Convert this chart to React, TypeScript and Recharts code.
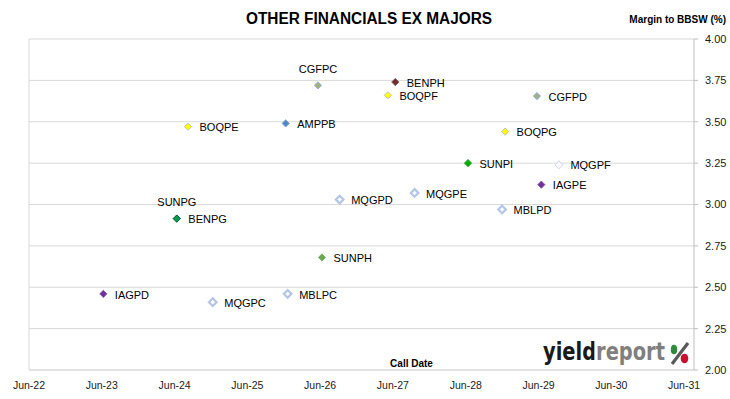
import React from 'react';
import { ScatterChart, Scatter, XAxis, YAxis, CartesianGrid, ReferenceLine } from 'recharts';

// ---- data ----
const bondNames = [
  'CGFPC', 'BENPH', 'BOQPF', 'CGFPD', 'BOQPE', 'AMPPB', 'BOQPG', 'SUNPI', 'MQGPF',
  'IAGPE', 'MQGPE', 'MQGPD', 'MBLPD', 'SUNPG', 'BENPG', 'SUNPH', 'IAGPD', 'MQGPC', 'MBLPC',
];
const callDates = [
  '2026-06-04', '2027-06-27', '2027-05-21', '2029-06-07', '2024-08-21', '2025-12-24', '2028-12-29', '2028-06-26', '2029-09-25',
  '2029-06-29', '2027-10-02', '2026-09-21', '2028-12-14', '2024-06-26', '2024-06-26', '2026-06-24', '2023-06-23', '2024-12-23', '2026-01-03',
];
const margins = [
  3.72, 3.74, 3.66, 3.655, 3.47, 3.49, 3.44, 3.25, 3.24,
  3.12, 3.07, 3.03, 2.97, 2.915, 2.915, 2.68, 2.46, 2.41, 2.46,
];
const tickYears = [2022, 2023, 2024, 2025, 2026, 2027, 2028, 2029, 2030, 2031];
const yTicks = [2.0, 2.25, 2.5, 2.75, 3.0, 3.25, 3.5, 3.75, 4.0];

// ---- styles ----
type MS = { fill: string; stroke: string; sw: number; r: number };
const ring: MS = { fill: '#FFFFFF', stroke: '#B4C6E7', sw: 2.2, r: 3.8 };
const markerStyles: Record<string, MS> = {
  CGFPC: { fill: '#A9AF78', stroke: '#8EB4E3', sw: 1, r: 3.6 },
  CGFPD: { fill: '#A3AE88', stroke: '#8EB4E3', sw: 1, r: 3.6 },
  BENPH: { fill: '#6E2C2C', stroke: '#8C5A5A', sw: 1, r: 3.6 },
  BOQPE: { fill: '#FFFF00', stroke: '#BFBFBF', sw: 1, r: 3.6 },
  BOQPF: { fill: '#FFFF00', stroke: '#BFBFBF', sw: 1, r: 3.6 },
  BOQPG: { fill: '#FFFF00', stroke: '#BFBFBF', sw: 1, r: 3.6 },
  AMPPB: { fill: '#4F86C6', stroke: '#7FA7D8', sw: 1, r: 3.6 },
  SUNPI: { fill: '#00B000', stroke: '#2A9A2A', sw: 1, r: 3.6 },
  MQGPF: { fill: '#FFFFFF', stroke: '#C5D3EB', sw: 1, r: 4 },
  IAGPE: { fill: '#7030A0', stroke: '#8A5CB0', sw: 1, r: 3.6 },
  IAGPD: { fill: '#7030A0', stroke: '#8A5CB0', sw: 1, r: 3.6 },
  MQGPE: ring, MQGPD: ring, MQGPC: ring, MBLPC: ring, MBLPD: ring,
  SUNPG: { fill: '#00A050', stroke: '#1F5F3F', sw: 1, r: 3.6 },
  BENPG: { fill: '#00A050', stroke: '#1F5F3F', sw: 1, r: 3.6 },
  SUNPH: { fill: '#6AA84F', stroke: '#80B46A', sw: 1, r: 3.6 },
};
const labelAbove = new Set(['CGFPC', 'SUNPG']);

const toTime = (s: string) => Date.parse(s + 'T00:00:00Z');
const data = bondNames.map((name, i) => ({ name, x: toTime(callDates[i]), y: margins[i] }));
const xTicks = tickYears.map((y) => Date.UTC(y, 5, 15));
const xDomain = [Date.UTC(2022, 5, 15), Date.UTC(2031, 7, 4)];

const FONT = '"Liberation Sans", Arial, sans-serif';

const Marker = (props: any) => {
  const { cx, cy, payload } = props;
  if (cx == null || cy == null) return null;
  const name: string = payload.name;
  const s = markerStyles[name];
  const r = s.r;
  const d = `M${cx},${cy - r} L${cx + r},${cy} L${cx},${cy + r} L${cx - r},${cy} Z`;
  const above = labelAbove.has(name);
  return (
    <g>
      <path d={d} fill={s.fill} stroke={s.stroke} strokeWidth={s.sw} />
      <text
        x={above ? cx : cx + 11.5}
        y={above ? cy - 16.5 : cy + 0.7}
        textAnchor={above ? 'middle' : 'start'}
        dominantBaseline="central"
        fontSize={11}
        fontFamily={FONT}
        fill="#000"
      >
        {name}
      </text>
    </g>
  );
};

export default function App() {
  return (
    <div style={{ position: 'absolute', left: 0, top: 0, width: 730, height: 399, background: '#fff' }}>
      <ScatterChart width={730} height={399} margin={{ top: 39, right: 0, bottom: 0, left: 29 }}>
        <CartesianGrid vertical={false} stroke="#D9D9D9" strokeWidth={1} />
        <XAxis
          type="number"
          dataKey="x"
          domain={xDomain}
          ticks={xTicks}
          allowDataOverflow
          height={29}
          tickLine={false}
          tickSize={6}
          tickMargin={6}
          axisLine={{ stroke: '#D9D9D9' }}
          tick={{ fontSize: 10.5, fontFamily: FONT, fill: '#1a1a1a' }}
          tickFormatter={(v: number) => 'Jun-' + String(new Date(v).getUTCFullYear()).slice(2)}
        />
        <YAxis
          type="number"
          dataKey="y"
          orientation="right"
          domain={[2, 4]}
          ticks={yTicks}
          width={36}
          tickSize={4}
          tickMargin={7}
          axisLine={{ stroke: '#BFBFBF' }}
          tickLine={{ stroke: '#BFBFBF' }}
          tick={{ fontSize: 11, fontFamily: FONT, fill: '#1a1a1a', textAnchor: 'start' }}
          tickFormatter={(v: number) => v.toFixed(2)}
        />
        <ReferenceLine x={xDomain[0]} stroke="#D9D9D9" />
        <Scatter data={data} shape={Marker} isAnimationActive={false} />
      </ScatterChart>
      <svg
        width={730}
        height={399}
        style={{ position: 'absolute', left: 0, top: 0, pointerEvents: 'none' }}
      >
        <defs>
          <linearGradient id="logoFill" gradientUnits="userSpaceOnUse" x1={543} y1={0} x2={665} y2={0}>
            <stop offset={0} stopColor="#1a1a1a" />
            <stop offset={0.415} stopColor="#1a1a1a" />
            <stop offset={0.415} stopColor="#7f7f7f" />
            <stop offset={1} stopColor="#7f7f7f" />
          </linearGradient>
        </defs>
        <text x={369} y={24} textAnchor="middle" fontSize={16} fontWeight="bold" fontFamily={FONT} fill="#000" textLength={246} lengthAdjust="spacingAndGlyphs">
          OTHER FINANCIALS EX MAJORS
        </text>
        <text x={726} y={23} textAnchor="end" fontSize={10} fontWeight="bold" fontFamily={FONT} fill="#000">
          Margin to BBSW (%)
        </text>
        <text x={411.5} y={367} textAnchor="middle" fontSize={10} fontWeight="bold" fontFamily={FONT} fill="#000">
          Call Date
        </text>
        <text x={543} y={360} fontSize={24} fontWeight="bold" fontFamily='"DejaVu Sans", sans-serif' fill="url(#logoFill)" textLength={122} lengthAdjust="spacingAndGlyphs">
          yieldreport
        </text>
        <line x1={688} y1={343} x2={672} y2={364} stroke="#5a5a5a" strokeWidth={3.2} />
        <ellipse cx={674} cy={349.5} rx={3.2} ry={4.8} fill="#2E8B3E" />
        <ellipse cx={684.5} cy={358.5} rx={3.8} ry={4.8} fill="#C8102E" />
      </svg>
    </div>
  );
}
